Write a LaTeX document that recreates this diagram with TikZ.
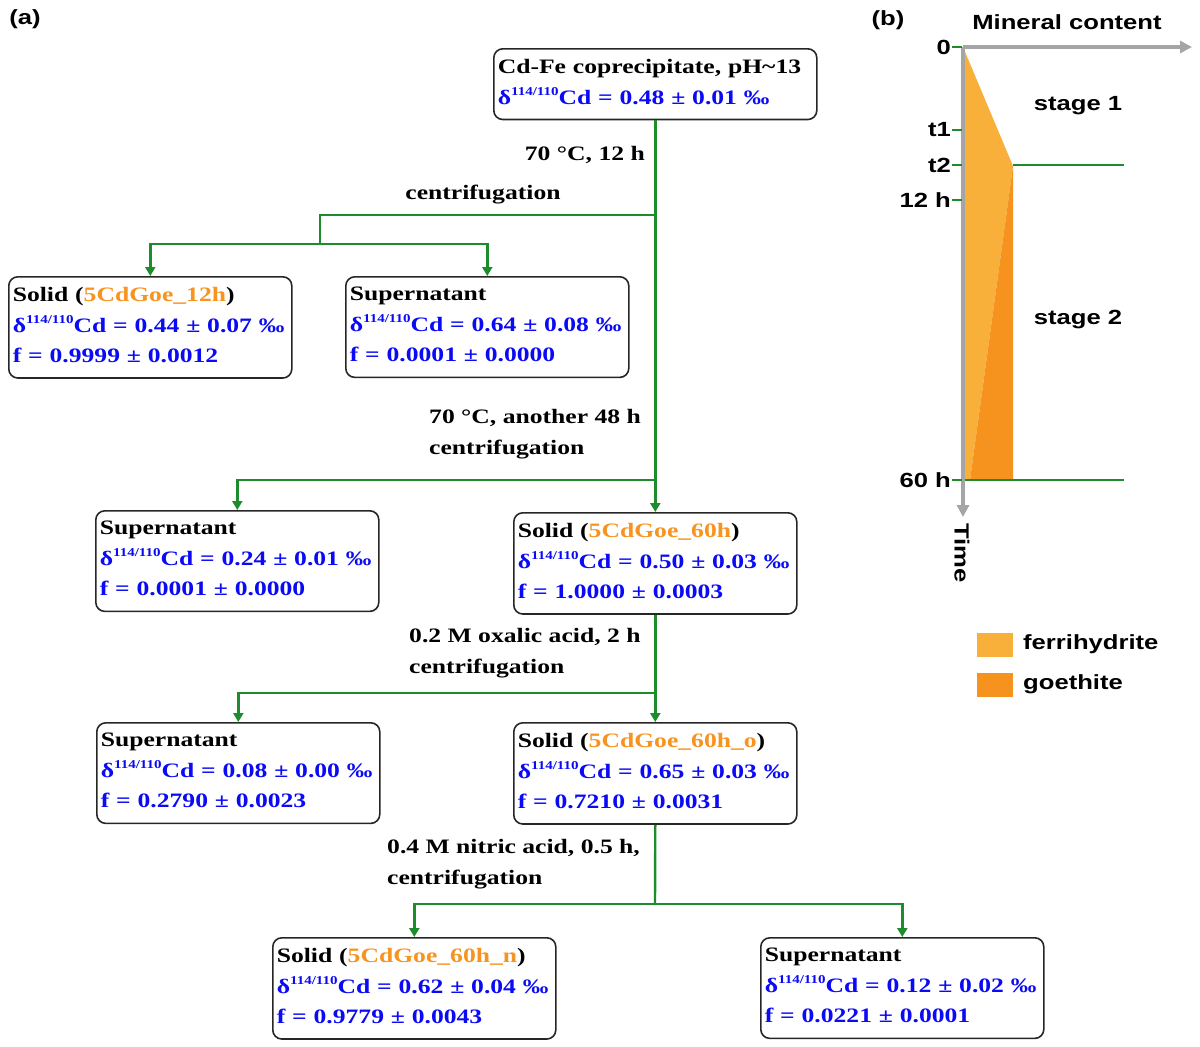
\documentclass[tikz,border=0pt]{standalone}
\usepackage{fontspec}
\usetikzlibrary{arrows.meta}
\newfontfamily\tms[FakeStretch=1.25]{Liberation Serif}
\newfontfamily\ars[FakeStretch=1.25]{Liberation Sans}
\definecolor{flowgreen}{RGB}{30,140,45}
\definecolor{axgray}{RGB}{165,165,165}
\definecolor{ferri}{RGB}{249,176,58}
\definecolor{goeth}{RGB}{246,146,30}
\definecolor{sname}{RGB}{247,147,30}
\definecolor{dblue}{RGB}{10,10,245}
\newcommand{\fsz}{\tms\bfseries\fontsize{20.5}{30.5}\selectfont}
\newcommand{\asz}{\ars\bfseries\fontsize{20.5}{24}\selectfont}
\newcommand{\supiso}{\raisebox{0.42em}{\fontsize{12}{12}\selectfont 114/110}}
\newcommand{\dl}[1]{\mbox{\textcolor{dblue}{δ\supiso Cd = #1 ‰}}}
\newcommand{\ff}[1]{\mbox{\textcolor{dblue}{f = #1}}}
\newcommand{\sn}[1]{\textcolor{sname}{#1}}
\newcommand{\bdepth}{\rule[-5pt]{0pt}{1pt}}
\tikzset{
  box/.style={draw=black!85, line width=1.6pt, rounded corners=9pt, inner xsep=4pt, inner ysep=10.5pt, text width=#1, align=left, anchor=north west, font=\fsz},
  box/.default=275pt,
  flow/.style={draw=flowgreen, line width=2.4pt},
  flowar/.style={flow, -{Triangle[length=9pt,width=10pt]}},
  lbl/.style={font=\fsz, align=left, inner sep=0pt},
  albl/.style={font=\asz, inner sep=0pt},
}
\begin{document}
\begin{tikzpicture}[x=1pt,y=-1pt]
\useasboundingbox (0,0) rectangle (1200,1047);
% ---------- panel (a) ----------
\node[albl] (la) at (25,19) {(a)};
\node[box=315pt] (top) at (493,48) {Cd-Fe coprecipitate, pH\textasciitilde13\\\dl{0.48 ± 0.01}\bdepth};
\node[box] (s12) at (8,276) {Solid (\sn{5CdGoe\_12h})\\\dl{0.44 ± 0.07}\\\ff{0.9999 ± 0.0012}\bdepth};
\node[box] (sup1) at (345,276) {Supernatant\\\dl{0.64 ± 0.08}\\\ff{0.0001 ± 0.0000}\bdepth};
\node[box] (sup2) at (95,510) {Supernatant\\\dl{0.24 ± 0.01}\\\ff{0.0001 ± 0.0000}\bdepth};
\node[box] (sol60) at (513,512) {Solid (\sn{5CdGoe\_60h})\\\dl{0.50 ± 0.03}\\\ff{1.0000 ± 0.0003}\bdepth};
\node[box] (sup3) at (96,722) {Supernatant\\\dl{0.08 ± 0.00}\\\ff{0.2790 ± 0.0023}\bdepth};
\node[box] (sol60o) at (513,722) {Solid (\sn{5CdGoe\_60h\_o})\\\dl{0.65 ± 0.03}\\\ff{0.7210 ± 0.0031}\bdepth};
\node[box] (sol60n) at (272,937) {Solid (\sn{5CdGoe\_60h\_n})\\\dl{0.62 ± 0.04}\\\ff{0.9779 ± 0.0043}\bdepth};
\node[box] (sup4) at (760,937) {Supernatant\\\dl{0.12 ± 0.02}\\\ff{0.0221 ± 0.0001}\bdepth};
% labels
\node[lbl, anchor=east] (l1) at (645,155) {70 °C, 12 h};
\node[lbl] (l2) at (483,195) {centrifugation};
\node[lbl, anchor=west] (l3) at (429,434) {70 °C, another 48 h\\centrifugation};
\node[lbl, anchor=west] (l4) at (409,653) {0.2 M oxalic acid, 2 h\\centrifugation};
\node[lbl, anchor=west] (l5) at (387,864) {0.4 M nitric acid, 0.5 h,\\centrifugation};
% junctions
\coordinate (j1) at (655,215);
\coordinate (j2) at (320,244);
\coordinate (j3) at (655,480);
\coordinate (j4) at (655,693);
\coordinate (j5) at (655,904);
% connectors
\draw[flow] (j1) -| (j2);
\draw[flowar] (j2) -| (s12.north);
\draw[flowar] (j2) -| (sup1.north);
\draw[flowar] (top.south) -- (sol60.north);
\draw[flowar] (j3) -| (sup2.north);
\draw[flowar] (sol60.south) -- (sol60o.north);
\draw[flowar] (j4) -| (sup3.north);
\draw[flow] (sol60o.south) -- (j5);
\draw[flowar] (j5) -| (sol60n.north);
\draw[flowar] (j5) -| (sup4.north);
% ---------- panel (b) ----------
\node[albl] (lb) at (888,20) {(b)};
\node[albl] (mc) at (1067,22) {Mineral content};
\fill[ferri] (963,47) -- (1013,166) -- (970,480) -- (963,480) -- cycle;
\fill[goeth] (1013,166) -- (1013,480) -- (970,480) -- cycle;
\coordinate (o) at (963,47);
\coordinate (xend) at (1192,47);
\coordinate (yend) at (963,517);
\draw[flowgreen, line width=1.8pt] (1013,165) -- (1124,165);
\draw[flowgreen, line width=2.6pt] (963,480) -- (1124,480);
\draw[axgray, line width=4pt, -{Triangle[length=12pt,width=12pt]}] (o) -- (xend);
\draw[axgray, line width=4pt, -{Triangle[length=12pt,width=12pt]}] (o) -- (yend);
\foreach \yy/\tt/\nm in {47/0/t0, 130/t1/ta, 165/t2/tb, 200/12 h/tc, 480/60 h/td}{
  \draw[flowgreen, line width=2.2pt] (952,\yy) -- (962,\yy);
  \node[albl, anchor=east] (\nm) at (951,\yy) {\tt};
}
\node[albl] (st1) at (1078,106) {stage 1};
\node[albl] (st2) at (1078,320) {stage 2};
\node[albl, rotate=-90] (tm) at (962,553) {Time};
\fill[ferri] (977,633) rectangle (1013,657);
\fill[goeth] (977,673) rectangle (1013,697);
\node[albl, anchor=west] (lf) at (1023,644) {ferrihydrite};
\node[albl, anchor=west] (lg) at (1023,684) {goethite};
\end{tikzpicture}
\end{document}
